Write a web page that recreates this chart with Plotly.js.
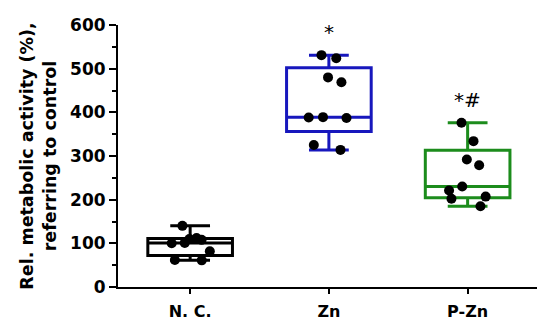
<!DOCTYPE html>
<html>
<head>
<meta charset="utf-8">
<script src="https://cdn.plot.ly/plotly-3.0.1.min.js"></script>
<style>
  html, body { margin: 0; padding: 0; background: #fff; }
  #chart { width: 550px; height: 331px; }
</style>
</head>
<body>
<div id="chart"></div>
<script>
// groups and measured values (Rel. metabolic activity, %)
const groups = ['N. C.', 'Zn', 'P-Zn'];
const valuesNC = [140, 110, 101, 82, 100, 108, 112, 61, 62];
const valuesZn = [531, 524, 469, 480, 387, 388, 389, 314, 325];
const valuesPZn = [376, 334, 292, 279, 230, 221, 207, 202, 185];
// significance marks drawn above the Zn and P-Zn boxes
const markGroups = ['Zn', 'P-Zn'];
const markText = ['*', '*#'];
const markHeights = [584, 428];
const boxColors = ['#000000', '#1717bd', '#1c8c1c'];

const FONT = 'DejaVu Sans, Liberation Sans, Arial, sans-serif';
const allValues = [valuesNC, valuesZn, valuesPZn];

const traces = allValues.map((vals, i) => ({
    type: 'box',
    name: groups[i],
    x: vals.map(() => groups[i]),
    y: vals,
    boxpoints: 'all',
    jitter: 0.6,
    pointpos: 0,
    quartilemethod: 'exclusive',
    width: 0.61,
    whiskerwidth: 0.47,
    fillcolor: '#ffffff',
    line: { color: boxColors[i], width: 3 },
    marker: { color: '#000000', size: 10 },
    hoverinfo: 'y'
}));

const annotations = markGroups.map((g, i) => ({
    x: g, y: markHeights[i],
    text: markText[i], showarrow: false,
    font: { family: FONT, size: 20, color: '#000' }
}));

const layout = {
    width: 550, height: 331,
    margin: { l: 118, r: 13, t: 25, b: 44 },
    paper_bgcolor: '#fff', plot_bgcolor: '#fff',
    showlegend: false,
    font: { family: FONT, color: '#000' },
    xaxis: {
        type: 'category',
        range: [-0.52, 2.5],
        showline: true, linecolor: '#000', linewidth: 2,
        ticks: 'outside', ticklen: 5, tickwidth: 2, tickcolor: '#000',
        ticklabelstandoff: 4,
        showgrid: false, zeroline: false,
        tickfont: { family: FONT, size: 16, weight: 'bold' }
    },
    yaxis: {
        range: [0, 600],
        dtick: 100,
        showline: true, linecolor: '#000', linewidth: 2,
        ticks: 'outside', ticklen: 7, tickwidth: 2, tickcolor: '#000',
        minor: { dtick: 50, ticks: 'outside', ticklen: 4, tickwidth: 2, tickcolor: '#000' },
        showgrid: false, zeroline: false,
        tickfont: { family: FONT, size: 17, weight: 'bold' },
        title: {
            text: 'Rel. metabolic activity (%),<br>referring to control',
            font: { family: FONT, size: 17.5, weight: 'bold' },
            standoff: 9
        }
    },
    annotations: annotations
};

Plotly.newPlot('chart', traces, layout, { displayModeBar: false, staticPlot: true });
</script>
</body>
</html>
